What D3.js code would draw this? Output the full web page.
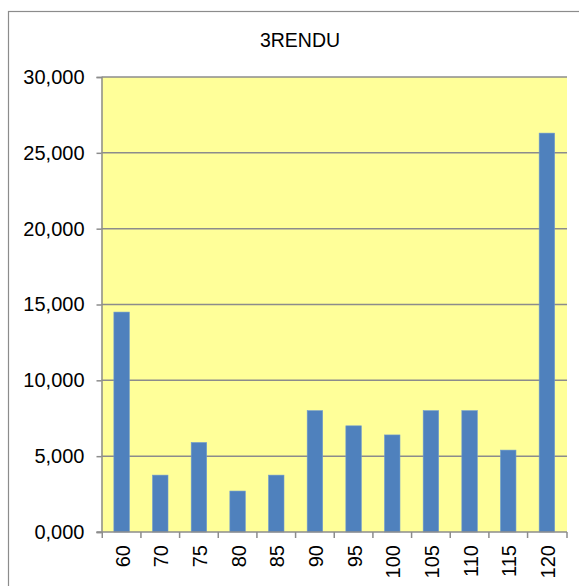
<!DOCTYPE html>
<html>
<head>
<meta charset="utf-8">
<script src="https://cdn.jsdelivr.net/npm/d3@7"></script>
<style>
  body { margin: 0; background: #fff; }
  text { font-family: "Liberation Sans", Arial, sans-serif; fill: #000; }
</style>
</head>
<body>
<svg id="chart" width="579" height="586"></svg>
<script>
// chart data
var categories = ['60', '70', '75', '80', '85', '90', '95', '100', '105', '110', '115', '120'];
var rendu = [14500, 3750, 5900, 2700, 3750, 8000, 7000, 6400, 8000, 8000, 5400, 26300];
var yTicks = [0, 5000, 10000, 15000, 20000, 25000, 30000];
var title = '3RENDU';

var svg = d3.select('#chart');
var plot = { left: 101.5, top: 77, right: 567, bottom: 532 };

// outer frame of the chart
svg.append('rect')
    .attr('x', 8.5).attr('y', 11.5)
    .attr('width', 640).attr('height', 640)
    .attr('fill', '#fff')
    .attr('stroke', '#8c8c8c').attr('stroke-width', 1.2);

svg.append('text')
    .attr('x', 300).attr('y', 47)
    .attr('text-anchor', 'middle')
    .style('font-size', '19.5px')
    .text(title);

var x = d3.scaleBand()
    .domain(categories)
    .range([plot.left, plot.right])
    .paddingInner(0.6)
    .paddingOuter(0.32);

var y = d3.scaleLinear()
    .domain([0, 30000])
    .range([plot.bottom, plot.top]);

// yellow plot area
svg.append('rect')
    .attr('x', plot.left).attr('y', plot.top)
    .attr('width', plot.right - plot.left)
    .attr('height', plot.bottom - plot.top)
    .attr('fill', '#ffff99');

// gridlines
svg.append('g')
    .selectAll('line')
    .data(yTicks.filter(function(d) { return d > 0; }))
    .enter().append('line')
    .attr('x1', plot.left).attr('x2', plot.right)
    .attr('y1', function(d) { return y(d); })
    .attr('y2', function(d) { return y(d); })
    .attr('stroke', '#8c8c8c').attr('stroke-width', 1.5);

// bars
svg.append('g')
    .selectAll('rect')
    .data(rendu)
    .enter().append('rect')
    .attr('x', function(d, i) { return x(categories[i]); })
    .attr('y', function(d) { return y(d); })
    .attr('width', x.bandwidth())
    .attr('height', function(d) { return plot.bottom - y(d); })
    .attr('fill', '#4f81bd')
    .attr('stroke', '#6f9bd0').attr('stroke-width', 0.6);

// y axis
var fmt = function(d) { return d3.format(',')(d / 1000) + ',000'; };
var yAxis = svg.append('g')
    .attr('transform', 'translate(' + plot.left + ',0)')
    .call(d3.axisLeft(y).tickValues(yTicks).tickSize(5).tickPadding(12).tickFormat(function(d) {
        return d === 0 ? '0,000' : fmt(d);
    }));
yAxis.select('.domain').attr('stroke', '#8c8c8c').attr('stroke-width', 1.5);
yAxis.selectAll('.tick line').attr('stroke', '#8c8c8c').attr('stroke-width', 1.5);
yAxis.selectAll('text')
    .style('font-size', '20px')
    .style('font-family', '"Liberation Sans", Arial, sans-serif')
    .attr('fill', '#000');

// x axis with ticks at band boundaries
var step = x.step();
var bounds = categories.map(function(c) { return x(c) - (step - x.bandwidth()) / 2; });
bounds.push(plot.right);
var xg = svg.append('g');
xg.append('line')
    .attr('x1', plot.left - 5).attr('x2', plot.right)
    .attr('y1', plot.bottom).attr('y2', plot.bottom)
    .attr('stroke', '#8c8c8c').attr('stroke-width', 1.5);
xg.selectAll('line.tk')
    .data(bounds)
    .enter().append('line')
    .attr('class', 'tk')
    .attr('x1', function(d) { return d; }).attr('x2', function(d) { return d; })
    .attr('y1', plot.bottom).attr('y2', plot.bottom + 6)
    .attr('stroke', '#8c8c8c').attr('stroke-width', 1.5);
xg.selectAll('text')
    .data(categories)
    .enter().append('text')
    .attr('transform', function(d) {
        return 'translate(' + (x(d) + x.bandwidth() / 2 + 8) + ',' + (plot.bottom + 13) + ') rotate(-90)';
    })
    .attr('text-anchor', 'end')
    .style('font-size', '20px')
    .text(function(d) { return d; });
</script>
</body>
</html>
